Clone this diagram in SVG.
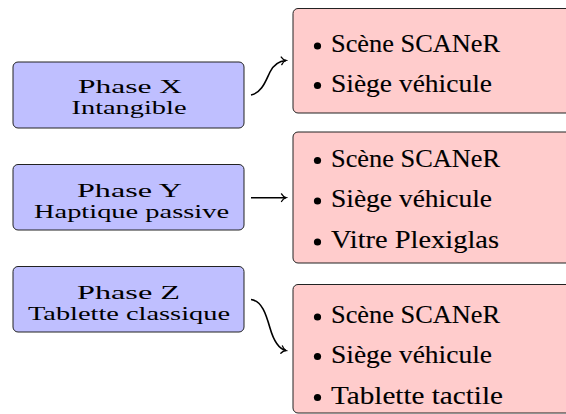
<svg xmlns="http://www.w3.org/2000/svg" width="566" height="414" viewBox="0 0 566 414">
<style>
.phase{fill:#bfbfff;stroke:#222;stroke-width:1}
.res{fill:#ffcccc;stroke:#222;stroke-width:1}
.pt{font-family:'Liberation Serif',serif;font-size:19px;fill:#000;text-anchor:middle}
.it{font-family:'Liberation Serif',serif;font-size:25.5px;fill:#000;stroke:#000;stroke-width:0.12}
.bul{fill:#000}
.conn{fill:none;stroke:#000;stroke-width:1.6}
</style>
<defs>
<marker id="arr" viewBox="-6 -5 8 10" markerWidth="8" markerHeight="10" refX="0" refY="0" orient="auto" markerUnits="userSpaceOnUse">
<path d="M-4.5,-3.8 C-3.2,-1.6 -1.5,-0.4 0,0 C-1.5,0.4 -3.2,1.6 -4.5,3.8" fill="none" stroke="#000" stroke-width="1.3" stroke-linecap="round"/>
</marker>
</defs>
<g id="phaseX">
<rect class="phase" x="13" y="62" width="231" height="66" rx="5"/>
<text class="pt" x="130" y="93.3" textLength="104" lengthAdjust="spacingAndGlyphs">Phase  X</text>
<text class="pt" x="129" y="113.8" textLength="115" lengthAdjust="spacingAndGlyphs">Intangible</text>
</g>
<g id="phaseY">
<rect class="phase" x="13" y="164.5" width="231" height="65.5" rx="5"/>
<text class="pt" x="129.5" y="197.3" textLength="105" lengthAdjust="spacingAndGlyphs">Phase  Y</text>
<text class="pt" x="131.5" y="217.8" textLength="195" lengthAdjust="spacingAndGlyphs">Haptique passive</text>
</g>
<g id="phaseZ">
<rect class="phase" x="13" y="266.5" width="231" height="65.5" rx="5"/>
<text class="pt" x="128.5" y="298.8" textLength="103" lengthAdjust="spacingAndGlyphs">Phase  Z</text>
<text class="pt" x="129" y="319.5" textLength="202" lengthAdjust="spacingAndGlyphs">Tablette classique</text>
</g>
<g id="resX">
<rect class="res" x="293" y="8.5" width="290" height="104.5" rx="5"/>
<circle class="bul" cx="317.5" cy="46" r="3.6"/>
<text class="it" x="331" y="52.3" textLength="169" lengthAdjust="spacingAndGlyphs">Scène SCANeR</text>
<circle class="bul" cx="317.5" cy="85.5" r="3.6"/>
<text class="it" x="331" y="91.7" textLength="161" lengthAdjust="spacingAndGlyphs">Siège véhicule</text>
</g>
<g id="resY">
<rect class="res" x="293" y="132" width="290" height="131" rx="5"/>
<circle class="bul" cx="317.5" cy="160.5" r="3.6"/>
<text class="it" x="331" y="166.7" textLength="169" lengthAdjust="spacingAndGlyphs">Scène SCANeR</text>
<circle class="bul" cx="317.5" cy="201" r="3.6"/>
<text class="it" x="331" y="207.3" textLength="161" lengthAdjust="spacingAndGlyphs">Siège véhicule</text>
<circle class="bul" cx="317.5" cy="242" r="3.6"/>
<text class="it" x="331" y="248.3" textLength="168" lengthAdjust="spacingAndGlyphs">Vitre Plexiglas</text>
</g>
<g id="resZ">
<rect class="res" x="293" y="284.5" width="290" height="128.5" rx="5"/>
<circle class="bul" cx="317.5" cy="317" r="3.6"/>
<text class="it" x="331" y="323.3" textLength="169" lengthAdjust="spacingAndGlyphs">Scène SCANeR</text>
<circle class="bul" cx="317.5" cy="356.5" r="3.6"/>
<text class="it" x="331" y="362.7" textLength="161" lengthAdjust="spacingAndGlyphs">Siège véhicule</text>
<circle class="bul" cx="317.5" cy="397.5" r="3.6"/>
<text class="it" x="331" y="404" textLength="172" lengthAdjust="spacingAndGlyphs">Tablette tactile</text>
</g>
<g id="connectors">
<path class="conn" d="M251,95 C262,93 266,80 270,72 C274,64 279,61 286,60.5" marker-end="url(#arr)"/>
<path class="conn" d="M251,197.7 L286,197.7" marker-end="url(#arr)"/>
<path class="conn" d="M251,299.5 C262,301 266,314 270,328 C274,342 279,349 286,350.5" marker-end="url(#arr)"/>
</g>
</svg>
